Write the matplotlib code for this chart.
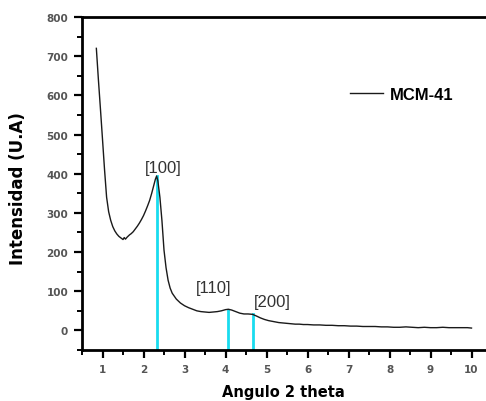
import matplotlib
matplotlib.use("Agg")
import matplotlib.pyplot as plt
from matplotlib.ticker import MultipleLocator

angle = [0.85, 0.9, 0.95, 1.0, 1.05, 1.1, 1.15, 1.2, 1.25, 1.3, 1.35, 1.4, 1.45,
         1.5, 1.53, 1.56, 1.6, 1.63, 1.66, 1.7, 1.75, 1.8, 1.85, 1.9, 1.95, 2.0,
         2.05, 2.1, 2.15, 2.2, 2.25, 2.29, 2.32, 2.35, 2.4, 2.45, 2.5, 2.55, 2.6,
         2.65, 2.7, 2.8, 2.9, 3.0, 3.1, 3.2, 3.3, 3.4, 3.5, 3.6, 3.7, 3.8, 3.9,
         4.0, 4.07, 4.15, 4.25, 4.35, 4.45, 4.55, 4.66, 4.75, 4.85, 4.95, 5.05,
         5.2, 5.3, 5.4, 5.5, 5.6, 5.7, 5.8, 5.9, 6.0, 6.15, 6.3, 6.45, 6.6, 6.75,
         6.9, 7.05, 7.2, 7.35, 7.5, 7.65, 7.8, 7.95, 8.1, 8.25, 8.4, 8.55, 8.7,
         8.85, 9.0, 9.15, 9.3, 9.45, 9.6, 9.75, 9.9, 10.0]
intensity = [720, 640, 565, 488, 410, 340, 303, 281, 265, 254, 246, 240, 236,
             232, 237, 233, 238, 241, 244, 247, 252, 259, 266, 274, 283, 293,
             305, 318, 332, 350, 370, 386, 394, 382, 340, 280, 205, 160, 128,
             108, 95, 80, 70, 63, 58, 54, 50, 48, 47, 46, 47, 48, 50,
             53, 54, 52, 48, 44, 42, 42, 41, 37, 32, 28, 25,
             22, 20, 19, 18, 17, 16, 16, 15, 15, 14, 14, 13, 13, 12,
             12, 11, 11, 10, 10, 10, 9, 9, 8, 8, 9, 8, 7,
             8, 7, 7, 8, 7, 7, 7, 7, 6]

peak_pos = [2.32, 4.07, 4.66]
peak_top = [393, 53, 41]
peak_labels = ["[100]", "[110]", "[200]"]
label_x = [2.49, 3.71, 5.15]
label_y = [417, 110, 75]

fig = plt.figure(figsize=(4.86, 4.02), dpi=100)
ax = fig.add_axes([82/486, 1-351/402, 410/486, 333/402])

for p, t in zip(peak_pos, peak_top):
    ax.plot([p, p], [-50, t], color="#19dcef", lw=2.0, zorder=2)

ax.plot(angle, intensity, color="#1a1a1a", lw=1.0, label="MCM-41", zorder=3)

for lab, lx, ly in zip(peak_labels, label_x, label_y):
    ax.text(lx, ly, lab, ha="center", va="center", fontsize=12,
            family="Liberation Sans", color="#333333")

ax.set_xlim(0.5, 10.5)
ax.set_ylim(-50, 800)
ax.xaxis.set_major_locator(MultipleLocator(1))
ax.xaxis.set_minor_locator(MultipleLocator(0.5))
ax.yaxis.set_major_locator(MultipleLocator(100))
ax.yaxis.set_minor_locator(MultipleLocator(50))
ax.set_xticks(range(1, 11))
ax.set_yticks(range(0, 801, 100))

for s in ["left", "bottom", "top"]:
    ax.spines[s].set_linewidth(2.0)
ax.spines["right"].set_visible(False)

ax.tick_params(which="major", direction="out", length=6, width=1.6,
               labelsize=7.5, labelcolor="#555555", pad=4)
ax.tick_params(which="minor", direction="out", length=3.5, width=1.4)
for lbl in ax.get_xticklabels() + ax.get_yticklabels():
    lbl.set_fontweight("bold")

ax.set_xlabel("Angulo 2 theta", fontsize=10.5, fontweight="bold")
ax.set_ylabel("Intensidad (U.A)", fontsize=12, fontweight="bold")
ax.xaxis.set_label_coords((283-82)/410, -(385-351)/333)
ax.yaxis.set_label_coords(-(82-27)/410, (351-189)/333)

leg = ax.legend(loc="center left", bbox_to_anchor=(350/486, 1-95/402),
                bbox_transform=fig.transFigure, frameon=False, borderpad=0,
                borderaxespad=0, handlelength=2.0, handletextpad=0.4,
                prop={"family": "Liberation Sans", "weight": "bold", "size": 12})

fig.savefig("out.png", dpi=100)
